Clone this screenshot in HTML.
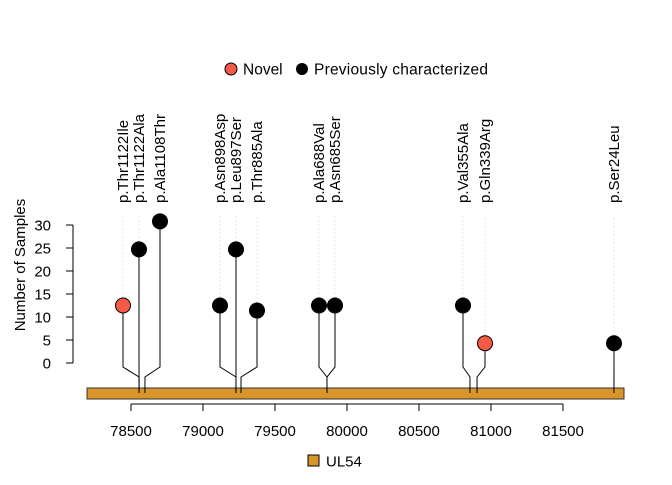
<!DOCTYPE html>
<html><head><meta charset="utf-8"><style>
body{margin:0;background:#fff}
svg{font-family:"Liberation Sans",Arial,sans-serif}
</style></head><body>
<svg id="chart" width="672" height="480" viewBox="0 0 672 480" xmlns="http://www.w3.org/2000/svg">
<g>
<circle cx="231" cy="69" r="6" fill="#f45a47" stroke="#000" stroke-width="1"/>
<text x="243" y="74.5" font-size="15.5">Novel</text>
<circle cx="302" cy="69" r="6" fill="#000"/>
<text x="314" y="74.5" font-size="15.5" textLength="174">Previously characterized</text>
</g>
<g id="yaxis"></g>
<text transform="translate(25,265) rotate(-90)" text-anchor="middle" font-size="15">Number of Samples</text>
<rect x="87" y="388" width="537" height="11" fill="#d9952a" stroke="#333" stroke-width="1"/>
<g id="xaxis"></g>
<g id="marks"></g>
<g>
<rect x="308" y="455" width="11" height="11" fill="#d9952a" stroke="#000" stroke-width="1"/>
<text x="326" y="466.5" font-size="15">UL54</text>
</g>
</svg>
<script>
const labels=["p.Thr1122Ile","p.Thr1122Ala","p.Ala1108Thr","p.Asn898Asp","p.Leu897Ser","p.Thr885Ala","p.Ala688Val","p.Asn685Ser","p.Val355Ala","p.Gln339Arg","p.Ser24Leu"];
const positions=[78556,78556,78597,79229,79229,79264,79861,79861,80854,80903,81854];
const counts=[12.5,24.7,30.8,12.5,24.7,11.4,12.5,12.5,12.5,4.3,4.3];
const novel=[true,false,false,false,false,false,false,false,false,true,false];
const displayX=[123,139,160,220,236,257,319,335,463,485,614];
const xTicks=[78500,79000,79500,80000,80500,81000,81500];
const yTicks=[0,5,10,15,20,25,30];
const NS="http://www.w3.org/2000/svg";
const X=v=>131+(v-78500)*0.144;
const Y=v=>363-v*4.6;
function mk(t,a,p){const e=document.createElementNS(NS,t);for(const k in a)e.setAttribute(k,a[k]);p.appendChild(e);return e;}
const ya=document.getElementById('yaxis'),xa=document.getElementById('xaxis'),mg=document.getElementById('marks');
mk('line',{x1:73,x2:73,y1:Y(0),y2:Y(30),stroke:'#000'},ya);
yTicks.forEach(t=>{
 const l=mk('line',{x1:66,x2:73,y1:Y(t),y2:Y(t),stroke:'#000'},ya);
 
 
 const tx=mk('text',{x:51,y:Y(t)+5.5,'text-anchor':'end','font-size':15},ya);tx.textContent=t;
 
 
});
mk('line',{x1:X(xTicks[0]),x2:X(xTicks[xTicks.length-1]),y1:404,y2:404,stroke:'#000'},xa);
xTicks.forEach(t=>{
 const l=mk('line',{x1:X(t),x2:X(t),y1:404,y2:411,stroke:'#000'},xa);
 
 
 const tx=mk('text',{x:X(t),y:436,'text-anchor':'middle','font-size':15},xa);tx.textContent=t;
 
 
});
labels.forEach((lab,i)=>{
 const dx=displayX[i],gx=X(positions[i]),cy=Y(counts[i]);
 const g=mk('g',{},mg);
 
 
 mk('line',{x1:dx,x2:dx,y1:cy,y2:215,stroke:'#ccc','stroke-dasharray':'1,3'},g);
 mk('polyline',{points:`${dx},${cy} ${dx},367 ${gx},377 ${gx},393`,fill:'none',stroke:'#000','stroke-width':1},g);
 const c=mk('circle',{cx:dx,cy:cy,r:7.5,fill:novel[i]?'#f45a47':'#000',stroke:'#000'},g);
 
 
 const t=mk('text',{transform:`translate(${dx+5},203) rotate(-90)`,'font-size':15},g);t.textContent=lab;
 
 
});
</script>
</body></html>
